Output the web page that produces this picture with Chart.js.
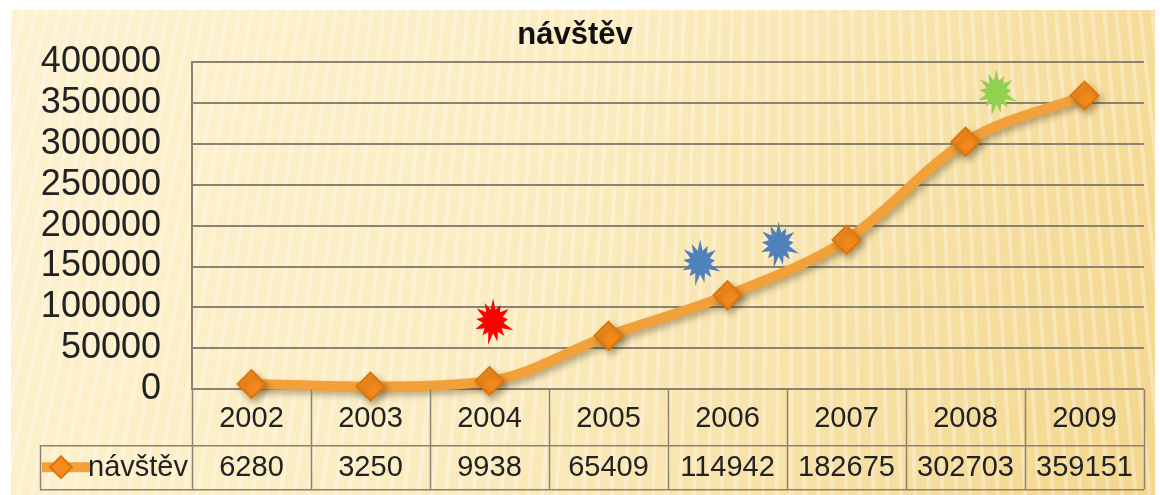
<!DOCTYPE html>
<html>
<head>
<meta charset="utf-8">
<script src="https://cdn.jsdelivr.net/npm/chart.js@4.4.1/dist/chart.umd.min.js"></script>
<style>
  html, body { margin: 0; padding: 0; background: #fff; }
  #wrap { width: 1160px; height: 495px; }
</style>
</head>
<body>
<div id="wrap"><canvas id="visitChart"></canvas></div>
<script>
var years = ["2002", "2003", "2004", "2005", "2006", "2007", "2008", "2009"];
var visits = [6280, 3250, 9938, 65409, 114942, 182675, 302703, 359151];
var seriesName = "návštěv";
var yMax = 400000;
var yStep = 50000;

// decorative bursts: category position (may be fractional) and value
var burstAt = [2.03, 3.77, 4.43, 6.26];
var burstValue = [83000, 155000, 177000, 363000];

var lineColor = "#f2a13a";
var markFill = "#f68a1c";
var markEdge = "#d9760c";
var gridColor = "#8c8272";
var font = "'Liberation Sans', Arial, sans-serif";

function diamond(ctx, x, y, r) {
  ctx.beginPath();
  ctx.moveTo(x, y - r);
  ctx.lineTo(x + r, y);
  ctx.lineTo(x, y + r);
  ctx.lineTo(x - r, y);
  ctx.closePath();
  ctx.fillStyle = markFill;
  ctx.fill();
  ctx.lineWidth = 2;
  ctx.strokeStyle = markEdge;
  ctx.stroke();
}

function burst(ctx, cx, cy, color, r) {
  var spikes = 13;
  var jag = [1, 0.8, 0.95, 0.75, 1.1, 0.85, 0.9, 1.05, 0.8, 0.95, 0.85, 1, 0.9];
  ctx.beginPath();
  for (var i = 0; i < spikes * 2; i++) {
    var a = -Math.PI / 2 + i * Math.PI / spikes;
    var rr = i % 2 ? r * 0.52 : r * jag[i / 2];
    var px = cx + Math.cos(a) * rr * 0.95;
    var py = cy + Math.sin(a) * rr * 1.1;
    if (i === 0) ctx.moveTo(px, py); else ctx.lineTo(px, py);
  }
  ctx.closePath();
  ctx.fillStyle = color;
  ctx.fill();
}

var paper = {
  id: "paper",
  beforeDraw: function(chart) {
    var ctx = chart.ctx, w = chart.width, h = chart.height;
    ctx.save();
    ctx.fillStyle = "#fff";
    ctx.fillRect(0, 0, w, h);
    var g = ctx.createLinearGradient(11, 10, w - 5, h);
    g.addColorStop(0, "#fdf2d0");
    g.addColorStop(0.45, "#fbecc0");
    g.addColorStop(1, "#f4d68c");
    ctx.fillStyle = g;
    ctx.beginPath();
    ctx.rect(11, 10, w - 16, h - 10);
    ctx.fill();
    ctx.clip();
    ctx.lineWidth = 4;
    ctx.strokeStyle = "rgba(255,255,255,0.3)";
    for (var x = -300; x < w + 300; x += 12) {
      ctx.beginPath();
      ctx.moveTo(x, 10);
      ctx.lineTo(x + (x - 800) * 0.15, h);
      ctx.stroke();
    }
    ctx.restore();
  }
};

var lineShadow = {
  id: "lineShadow",
  beforeDatasetDraw: function(chart) {
    var ctx = chart.ctx;
    ctx.save();
    ctx.shadowColor = "rgba(60,40,0,0.35)";
    ctx.shadowBlur = 6;
    ctx.shadowOffsetX = 3;
    ctx.shadowOffsetY = 4;
  },
  afterDatasetDraw: function(chart) {
    chart.ctx.restore();
  }
};

var extras = {
  id: "extras",
  afterDraw: function(chart) {
    var ctx = chart.ctx, xs = chart.scales.x, ys = chart.scales.y, a = chart.chartArea;
    var row1 = a.bottom + 56, row2 = a.bottom + 100, legLeft = a.left - 152;
    ctx.save();

    // bursts
    var colors = ["#ff0000", "#4f81bd", "#4f81bd", "#92d050"];
    burstAt.forEach(function(p, i) {
      burst(ctx, xs.getPixelForValue(p), ys.getPixelForValue(burstValue[i]), colors[i], 21);
    });

    // data table grid
    ctx.strokeStyle = gridColor;
    ctx.lineWidth = 1.5;
    ctx.beginPath();
    for (var i = 0; i <= years.length; i++) {
      var px = Math.round(xs.getPixelForValue(i - 0.5)) + 0.5;
      ctx.moveTo(px, a.bottom);
      ctx.lineTo(px, row2);
    }
    ctx.moveTo(legLeft, row1 + 0.5);
    ctx.lineTo(a.right, row1 + 0.5);
    ctx.moveTo(legLeft, row2 + 0.5);
    ctx.lineTo(a.right, row2 + 0.5);
    ctx.moveTo(legLeft + 0.5, row1);
    ctx.lineTo(legLeft + 0.5, row2);
    ctx.stroke();

    // values row
    var cy = (row1 + row2) / 2 + 1;
    ctx.font = "29px " + font;
    ctx.fillStyle = "#222";
    ctx.textAlign = "center";
    ctx.textBaseline = "middle";
    visits.forEach(function(v, i) {
      ctx.fillText(String(v), xs.getPixelForValue(i), cy);
    });

    // legend key
    ctx.strokeStyle = lineColor;
    ctx.lineWidth = 10;
    ctx.beginPath();
    ctx.moveTo(legLeft + 2, cy - 1);
    ctx.lineTo(legLeft + 50, cy - 1);
    ctx.stroke();
    diamond(ctx, legLeft + 21, cy - 1, 11);
    ctx.fillStyle = "#222";
    ctx.textAlign = "left";
    ctx.fillText(seriesName, legLeft + 48, cy);
    ctx.restore();
  }
};

new Chart(document.getElementById("visitChart"), {
  type: "line",
  data: {
    labels: years,
    datasets: [{
      label: seriesName,
      data: visits,
      borderColor: lineColor,
      borderWidth: 10,
      cubicInterpolationMode: "monotone",
      pointStyle: "rectRot",
      pointRadius: 14,
      pointHoverRadius: 14,
      pointBackgroundColor: markFill,
      pointBorderColor: markEdge,
      pointBorderWidth: 2,
      clip: false
    }]
  },
  options: {
    responsive: true,
    maintainAspectRatio: false,
    animation: false,
    layout: { padding: { left: 0, right: 10, top: 10, bottom: 55 } },
    plugins: {
      legend: { display: false },
      tooltip: { enabled: false },
      title: {
        display: true,
        text: seriesName,
        color: "#111",
        font: { family: font, size: 31, weight: "bold" },
        padding: { top: 7, bottom: 8 }
      }
    },
    scales: {
      x: {
        offset: true,
        grid: { display: false },
        border: { display: false },
        ticks: { color: "#222", padding: 4, font: { family: font, size: 29 } }
      },
      y: {
        min: 0,
        max: yMax,
        afterFit: function(scale) { scale.width = 192; },
        grid: { color: gridColor, lineWidth: 2, drawTicks: false },
        border: { color: gridColor, width: 2 },
        ticks: {
          stepSize: yStep,
          autoSkip: false,
          color: "#222",
          padding: 31,
          font: { family: font, size: 36 },
          callback: function(v) { return String(v); }
        }
      }
    }
  },
  plugins: [paper, lineShadow, extras]
});
</script>
</body>
</html>
